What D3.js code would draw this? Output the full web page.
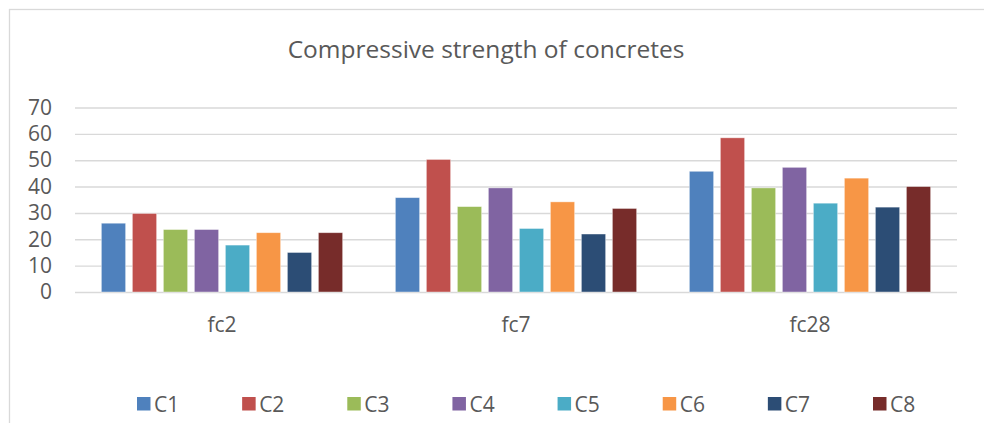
<!DOCTYPE html>
<html>
<head>
<meta charset="utf-8">
<script src="https://cdn.jsdelivr.net/npm/d3@7"></script>
<style>
  body { margin: 0; background: #fff; }
  text { font-family: "Open Sans", "Liberation Sans", sans-serif; fill: #595959; }
</style>
</head>
<body>
<div id="chart"></div>
<script>
// DATA
const categories = ["fc2", "fc7", "fc28"];
const series = ["C1", "C2", "C3", "C4", "C5", "C6", "C7", "C8"];
const fc2 = [26.1, 29.8, 23.7, 23.7, 17.8, 22.5, 15.0, 22.5];
const fc7 = [35.8, 50.3, 32.4, 39.5, 24.1, 34.2, 22.0, 31.7];
const fc28 = [45.8, 58.5, 39.5, 47.3, 33.7, 43.2, 32.2, 40.0];
const yTicks = [0, 10, 20, 30, 40, 50, 60, 70];
const colors = ["#4F81BD", "#C0504D", "#9BBB59", "#8064A2", "#4BACC6", "#F79646", "#2C4D75", "#772C2A"];

var values = [fc2, fc7, fc28];
var data = categories.map(function (c, i) {
  return {
    key: c,
    bars: series.map(function (s, j) {
      return { series: s, value: values[i][j] };
    }),
  };
});

var width = 984,
  height = 423;
var margin = { top: 107.5, right: 27, bottom: 131, left: 75 };
var innerW = width - margin.left - margin.right,
  innerH = height - margin.top - margin.bottom;

var svg = d3
  .select("#chart")
  .append("svg")
  .attr("width", width)
  .attr("height", height);

// chart area border (only left + top visible)
svg
  .append("rect")
  .attr("x", 9.5)
  .attr("y", 9.5)
  .attr("width", 1000)
  .attr("height", 500)
  .attr("fill", "none")
  .attr("stroke", "#d9d9d9")
  .attr("stroke-width", 1.3);

// TITLE
svg
  .append("text")
  .attr("x", 486)
  .attr("y", 58)
  .attr("text-anchor", "middle")
  .style("font-size", "24.5px")
  .text("Compressive strength of concretes");

var g = svg
  .append("g")
  .attr("transform", `translate(${margin.left}, ${margin.top})`);

var x0 = d3.scaleBand().domain(categories).range([0, innerW]).padding(0);
var x1 = d3
  .scaleBand()
  .domain(series)
  .range([0, x0.bandwidth()])
  .paddingInner(0.217)
  .paddingOuter(0.85);
var y = d3.scaleLinear().domain([0, 70]).range([innerH, 0]);
var color = d3.scaleOrdinal().domain(series).range(colors);

// gridlines + y labels
var yAxis = g
  .append("g")
  .call(
    d3.axisLeft(y).tickValues(yTicks).tickSize(-innerW).tickPadding(23)
  );
yAxis.select(".domain").remove();
yAxis
  .selectAll(".tick line")
  .attr("stroke", "#d9d9d9")
  .attr("stroke-width", 1.4);
yAxis
  .selectAll(".tick text")
  .style("font-size", "21px")
  .attr("fill", "#595959");

// x labels
var xAxis = g
  .append("g")
  .attr("transform", `translate(0, ${innerH})`)
  .call(d3.axisBottom(x0).tickSize(0).tickPadding(25));
xAxis.select(".domain").remove();
xAxis
  .selectAll(".tick text")
  .style("font-size", "21px")
  .attr("fill", "#595959");

// BARS
var groups = g
  .selectAll(".group")
  .data(data)
  .enter()
  .append("g")
  .attr("class", "group")
  .attr("transform", function (d) {
    return `translate(${x0(d.key)}, 0)`;
  });

groups
  .selectAll("rect")
  .data(function (d) {
    return d.bars;
  })
  .enter()
  .append("rect")
  .attr("x", function (d) {
    return x1(d.series);
  })
  .attr("y", function (d) {
    return y(d.value);
  })
  .attr("width", x1.bandwidth())
  .attr("height", function (d) {
    return innerH - y(d.value);
  })
  .attr("fill", function (d) {
    return color(d.series);
  })
  .attr("stroke", "#fff")
  .attr("stroke-opacity", 0.5)
  .attr("stroke-width", 0.8);

// LEGEND
var legendX = d3.scalePoint().domain(series).range([137, 873]);
var legend = svg
  .selectAll(".legend")
  .data(series)
  .enter()
  .append("g")
  .attr("class", "legend")
  .attr("transform", function (d) {
    return `translate(${legendX(d)}, 397)`;
  });

legend
  .append("rect")
  .attr("width", 13.5)
  .attr("height", 13.5)
  .attr("fill", function (d) {
    return color(d);
  });

legend
  .append("text")
  .attr("x", 17)
  .attr("y", 7)
  .attr("dy", "0.36em")
  .style("font-size", "21px")
  .text(function (d) {
    return d;
  });
</script>
</body>
</html>
